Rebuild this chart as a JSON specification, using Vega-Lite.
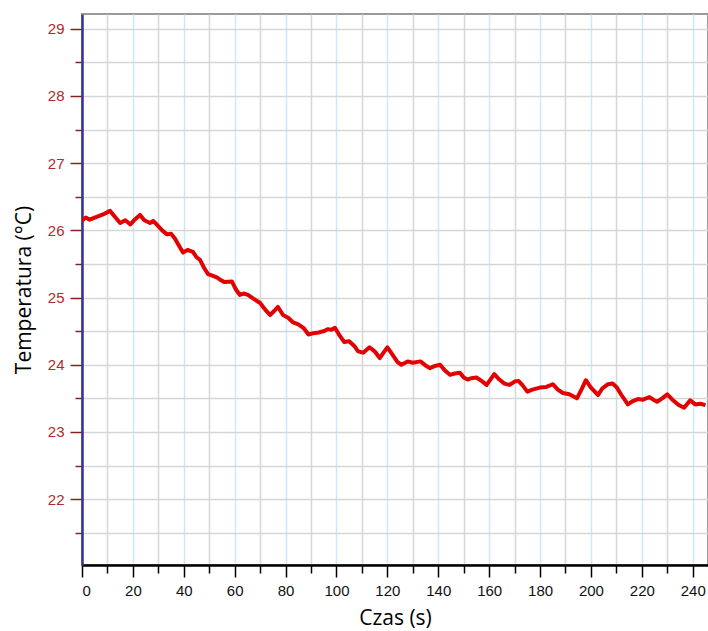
{
  "$schema": "https://vega.github.io/schema/vega-lite/v6.json",
  "width": 626,
  "height": 551,
  "autosize": {"type": "none"},
  "padding": {"left": 82, "top": 14, "right": 0, "bottom": 66},
  "background": "white",
  "config": {"view": {"stroke": "#9a9a9a", "strokeWidth": 2}},
  "data": {"values": [
    {"t": 0, "temp": 26.15}, {"t": 1.5, "temp": 26.19}, {"t": 3, "temp": 26.16}, {"t": 5, "temp": 26.19},
    {"t": 7, "temp": 26.22}, {"t": 9, "temp": 26.25}, {"t": 11, "temp": 26.29}, {"t": 13, "temp": 26.2},
    {"t": 15, "temp": 26.11}, {"t": 17, "temp": 26.15}, {"t": 19, "temp": 26.09}, {"t": 21, "temp": 26.17},
    {"t": 22.8, "temp": 26.23}, {"t": 24.5, "temp": 26.15}, {"t": 26.7, "temp": 26.11}, {"t": 28, "temp": 26.14},
    {"t": 29.5, "temp": 26.08}, {"t": 31.5, "temp": 26.0}, {"t": 33.4, "temp": 25.94}, {"t": 35, "temp": 25.95},
    {"t": 36.5, "temp": 25.88}, {"t": 38, "temp": 25.78}, {"t": 39.7, "temp": 25.67}, {"t": 41.5, "temp": 25.71},
    {"t": 43.6, "temp": 25.68}, {"t": 45, "temp": 25.6}, {"t": 46.4, "temp": 25.56}, {"t": 48, "temp": 25.44},
    {"t": 49.5, "temp": 25.35}, {"t": 51, "temp": 25.33}, {"t": 53, "temp": 25.3}, {"t": 54.5, "temp": 25.26},
    {"t": 56, "temp": 25.23}, {"t": 58.9, "temp": 25.24}, {"t": 60.5, "temp": 25.12}, {"t": 62, "temp": 25.04},
    {"t": 63.5, "temp": 25.06}, {"t": 65.2, "temp": 25.04}, {"t": 67.5, "temp": 24.98}, {"t": 70, "temp": 24.92},
    {"t": 72, "temp": 24.82}, {"t": 73.9, "temp": 24.74}, {"t": 75.5, "temp": 24.8}, {"t": 77, "temp": 24.86},
    {"t": 79, "temp": 24.74}, {"t": 81, "temp": 24.7}, {"t": 83, "temp": 24.63}, {"t": 85, "temp": 24.6},
    {"t": 87, "temp": 24.55}, {"t": 89, "temp": 24.45}, {"t": 91, "temp": 24.47}, {"t": 93, "temp": 24.48},
    {"t": 95, "temp": 24.5}, {"t": 96.5, "temp": 24.53}, {"t": 98, "temp": 24.52}, {"t": 99.4, "temp": 24.55},
    {"t": 101, "temp": 24.45}, {"t": 103, "temp": 24.34}, {"t": 105, "temp": 24.35}, {"t": 107, "temp": 24.28},
    {"t": 108.5, "temp": 24.2}, {"t": 110.5, "temp": 24.18}, {"t": 113, "temp": 24.26}, {"t": 115, "temp": 24.2},
    {"t": 117, "temp": 24.1}, {"t": 118.5, "temp": 24.18}, {"t": 120, "temp": 24.26}, {"t": 122, "temp": 24.15},
    {"t": 124, "temp": 24.04}, {"t": 125.5, "temp": 24.0}, {"t": 128, "temp": 24.05}, {"t": 130, "temp": 24.03},
    {"t": 133, "temp": 24.05}, {"t": 135, "temp": 23.99}, {"t": 136.7, "temp": 23.95}, {"t": 138.5, "temp": 23.98},
    {"t": 140.7, "temp": 24.0}, {"t": 142.5, "temp": 23.92}, {"t": 144.6, "temp": 23.85}, {"t": 146.5, "temp": 23.87},
    {"t": 148.5, "temp": 23.88}, {"t": 150, "temp": 23.81}, {"t": 151.5, "temp": 23.78}, {"t": 153, "temp": 23.8},
    {"t": 155, "temp": 23.81}, {"t": 157, "temp": 23.76}, {"t": 159, "temp": 23.7}, {"t": 160.5, "temp": 23.78},
    {"t": 162, "temp": 23.86}, {"t": 164, "temp": 23.78}, {"t": 166, "temp": 23.72}, {"t": 168, "temp": 23.7},
    {"t": 170, "temp": 23.75}, {"t": 171.5, "temp": 23.76}, {"t": 173, "temp": 23.7}, {"t": 175, "temp": 23.6},
    {"t": 177, "temp": 23.63}, {"t": 180, "temp": 23.66}, {"t": 182.5, "temp": 23.67}, {"t": 185, "temp": 23.71},
    {"t": 187, "temp": 23.63}, {"t": 189, "temp": 23.58}, {"t": 191.5, "temp": 23.56}, {"t": 194.5, "temp": 23.5},
    {"t": 196.5, "temp": 23.65}, {"t": 198, "temp": 23.77}, {"t": 200, "temp": 23.66}, {"t": 202.8, "temp": 23.55},
    {"t": 204.5, "temp": 23.65}, {"t": 206.7, "temp": 23.71}, {"t": 208.5, "temp": 23.72}, {"t": 210, "temp": 23.67},
    {"t": 212, "temp": 23.55}, {"t": 214.5, "temp": 23.41}, {"t": 216.5, "temp": 23.46}, {"t": 218.5, "temp": 23.49},
    {"t": 220.5, "temp": 23.48}, {"t": 223, "temp": 23.52}, {"t": 224.5, "temp": 23.48}, {"t": 226, "temp": 23.45},
    {"t": 228, "temp": 23.5}, {"t": 230, "temp": 23.56}, {"t": 232, "temp": 23.48}, {"t": 234.5, "temp": 23.4},
    {"t": 236.6, "temp": 23.36}, {"t": 239, "temp": 23.47}, {"t": 241, "temp": 23.41}, {"t": 243, "temp": 23.42},
    {"t": 245, "temp": 23.4}
  ]},
  "mark": {"type": "line", "color": "#e30000", "strokeWidth": 4, "strokeJoin": "round", "clip": true},
  "encoding": {
    "x": {
      "field": "t", "type": "quantitative",
      "scale": {"domain": [0, 246], "nice": false, "zero": false},
      "axis": {
        "title": "Czas (s)",
        "titleFont": "Open Sans", "titleFontSize": 21, "titleFontWeight": "normal", "titleColor": "#000000",
        "titlePadding": 9,
        "values": [0,10,20,30,40,50,60,70,80,90,100,110,120,130,140,150,160,170,180,190,200,210,220,230,240],
        "labelExpr": "datum.value % 20 === 0 ? datum.label : ''",
        "labelFont": "Liberation Sans", "labelFontSize": 15, "labelColor": "#111111", "labelPadding": 6,
        "domainColor": "#000000", "domainWidth": 2.5,
        "tickColor": "#000000", "tickWidth": 1.5,
        "tickSize": {"condition": {"test": "datum.value % 20 === 0", "value": 12}, "value": 8},
        "grid": true,
        "gridColor": {"condition": {"test": "datum.value % 20 === 0", "value": "#cfe7fb"}, "value": "#d6d6d6"},
        "gridWidth": 1.5
      }
    },
    "y": {
      "field": "temp", "type": "quantitative",
      "scale": {"domain": [21.02, 29.22], "nice": false, "zero": false},
      "axis": {
        "title": "Temperatura (°C)",
        "titleFont": "Open Sans", "titleFontSize": 21, "titleFontWeight": "normal", "titleColor": "#000000",
        "titlePadding": 13,
        "values": [21.5,22,22.5,23,23.5,24,24.5,25,25.5,26,26.5,27,27.5,28,28.5,29],
        "format": ".0f",
        "labelExpr": "datum.value % 1 === 0 ? datum.label : ''",
        "labelFont": "Liberation Sans", "labelFontSize": 15, "labelColor": "#b02a2a", "labelPadding": 6,
        "domainColor": "#34349a", "domainWidth": 2.5,
        "tickColor": "#8a2020", "tickWidth": 1.5,
        "tickSize": {"condition": {"test": "datum.value % 1 === 0", "value": 12}, "value": 7},
        "grid": true, "gridColor": "#d6d6d6", "gridWidth": 1.5
      }
    }
  }
}
